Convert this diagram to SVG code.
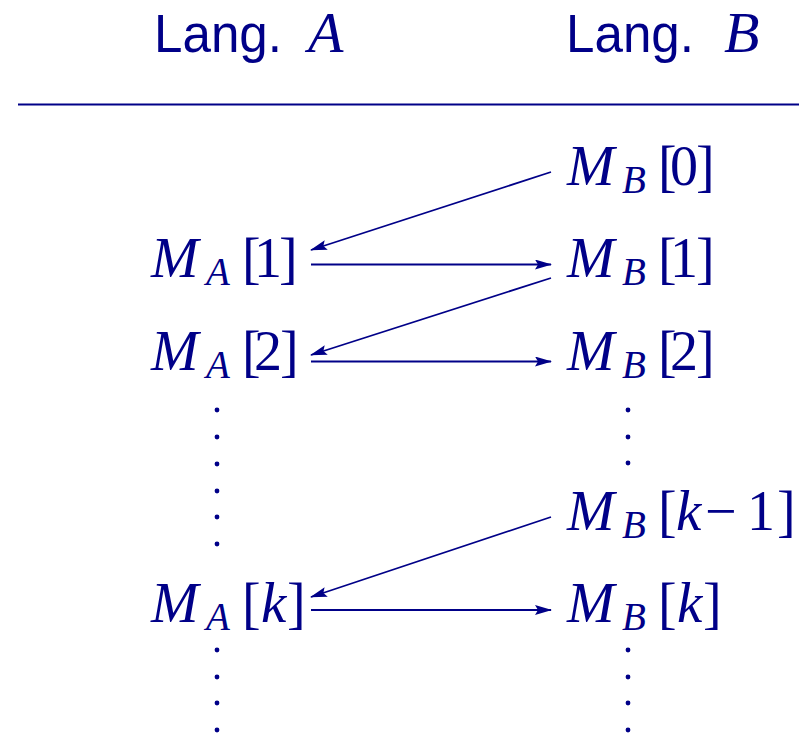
<svg xmlns="http://www.w3.org/2000/svg" width="799" height="734" viewBox="0 0 799 734">
<style>
text{fill:#000088}
.sans{font-family:"Liberation Sans","DejaVu Sans",sans-serif;font-size:54px}
.mi{font-family:"Liberation Serif","Times New Roman",serif;font-style:italic;font-size:57px}
.hi{font-family:"Liberation Serif","Times New Roman",serif;font-style:italic;font-size:58px}
.sub{font-family:"Liberation Serif","Times New Roman",serif;font-style:italic;font-size:39px}
.rm{font-family:"Liberation Serif","Times New Roman",serif;font-size:56px}
.conn line{stroke:#000088;stroke-width:1.8;fill:none;marker-end:url(#ah)}
.dot{fill:#000088}
</style>
<defs>
<marker id="ah" markerUnits="userSpaceOnUse" markerWidth="18" markerHeight="12" refX="16" refY="5" orient="auto" viewBox="0 0 18 12">
<path d="M0,0 L17,5 L0,10 L3,5 z" fill="#000088"/>
</marker>
</defs>
<rect width="799" height="734" fill="#ffffff"/>
<g id="header">
<text class="sans" x="154" y="52" textLength="128" lengthAdjust="spacingAndGlyphs">Lang.</text>
<text class="hi" x="308" y="52">A</text>
<text class="sans" x="566" y="52" textLength="128" lengthAdjust="spacingAndGlyphs">Lang.</text>
<text class="hi" x="724" y="52">B</text>
<line x1="18" y1="104.5" x2="799" y2="104.5" stroke="#000088" stroke-width="2"/>
</g>
<g id="MB0">
<text class="mi" x="567" y="185">M</text>
<text class="sub" x="622" y="193">B</text>
<text class="rm" x="658 670 696" y="185">[0]</text>
</g>
<g id="MA1">
<text class="mi" x="151" y="277">M</text>
<text class="sub" x="206" y="285">A</text>
<text class="rm" x="242 254 279" y="277">[1]</text>
</g>
<g id="MB1">
<text class="mi" x="567" y="277">M</text>
<text class="sub" x="622" y="285">B</text>
<text class="rm" x="658 670 696" y="277">[1]</text>
</g>
<g id="MA2">
<text class="mi" x="151" y="370">M</text>
<text class="sub" x="206" y="378">A</text>
<text class="rm" x="242 254 280" y="370">[2]</text>
</g>
<g id="MB2">
<text class="mi" x="567" y="370">M</text>
<text class="sub" x="622" y="378">B</text>
<text class="rm" x="658 670 696" y="370">[2]</text>
</g>
<g id="MBk1">
<text class="mi" x="567" y="530">M</text>
<text class="sub" x="622" y="538">B</text>
<text class="rm" x="658" y="530">[</text>
<text class="mi" x="676" y="530">k</text>
<text class="rm" x="705 747 777" y="530">−1]</text>
</g>
<g id="MAk">
<text class="mi" x="151" y="622">M</text>
<text class="sub" x="206" y="630">A</text>
<text class="rm" x="242" y="622">[</text>
<text class="mi" x="261" y="622">k</text>
<text class="rm" x="287" y="622">]</text>
</g>
<g id="MBk">
<text class="mi" x="567" y="622">M</text>
<text class="sub" x="622" y="630">B</text>
<text class="rm" x="658" y="622">[</text>
<text class="mi" x="677" y="622">k</text>
<text class="rm" x="703" y="622">]</text>
</g>
<g id="dots">
<circle class="dot" cx="217" cy="410" r="2.4"/>
<circle class="dot" cx="217" cy="437" r="2.4"/>
<circle class="dot" cx="217" cy="464" r="2.4"/>
<circle class="dot" cx="217" cy="491" r="2.4"/>
<circle class="dot" cx="217" cy="517" r="2.4"/>
<circle class="dot" cx="217" cy="544" r="2.4"/>
<circle class="dot" cx="628" cy="410" r="2.4"/>
<circle class="dot" cx="628" cy="437" r="2.4"/>
<circle class="dot" cx="628" cy="463" r="2.4"/>
<circle class="dot" cx="217" cy="650" r="2.4"/>
<circle class="dot" cx="217" cy="677" r="2.4"/>
<circle class="dot" cx="217" cy="703" r="2.4"/>
<circle class="dot" cx="217" cy="730" r="2.4"/>
<circle class="dot" cx="628" cy="650" r="2.4"/>
<circle class="dot" cx="628" cy="677" r="2.4"/>
<circle class="dot" cx="628" cy="703" r="2.4"/>
<circle class="dot" cx="628" cy="730" r="2.4"/>
</g>
<g id="connectors" class="conn">
<line x1="551" y1="172" x2="311" y2="250"/>
<line x1="311" y1="264.5" x2="551" y2="264.5"/>
<line x1="551" y1="278" x2="311" y2="355"/>
<line x1="311" y1="361.5" x2="551" y2="361.5"/>
<line x1="551" y1="517" x2="311" y2="597"/>
<line x1="311" y1="610" x2="551" y2="610"/>
</g>
</svg>
